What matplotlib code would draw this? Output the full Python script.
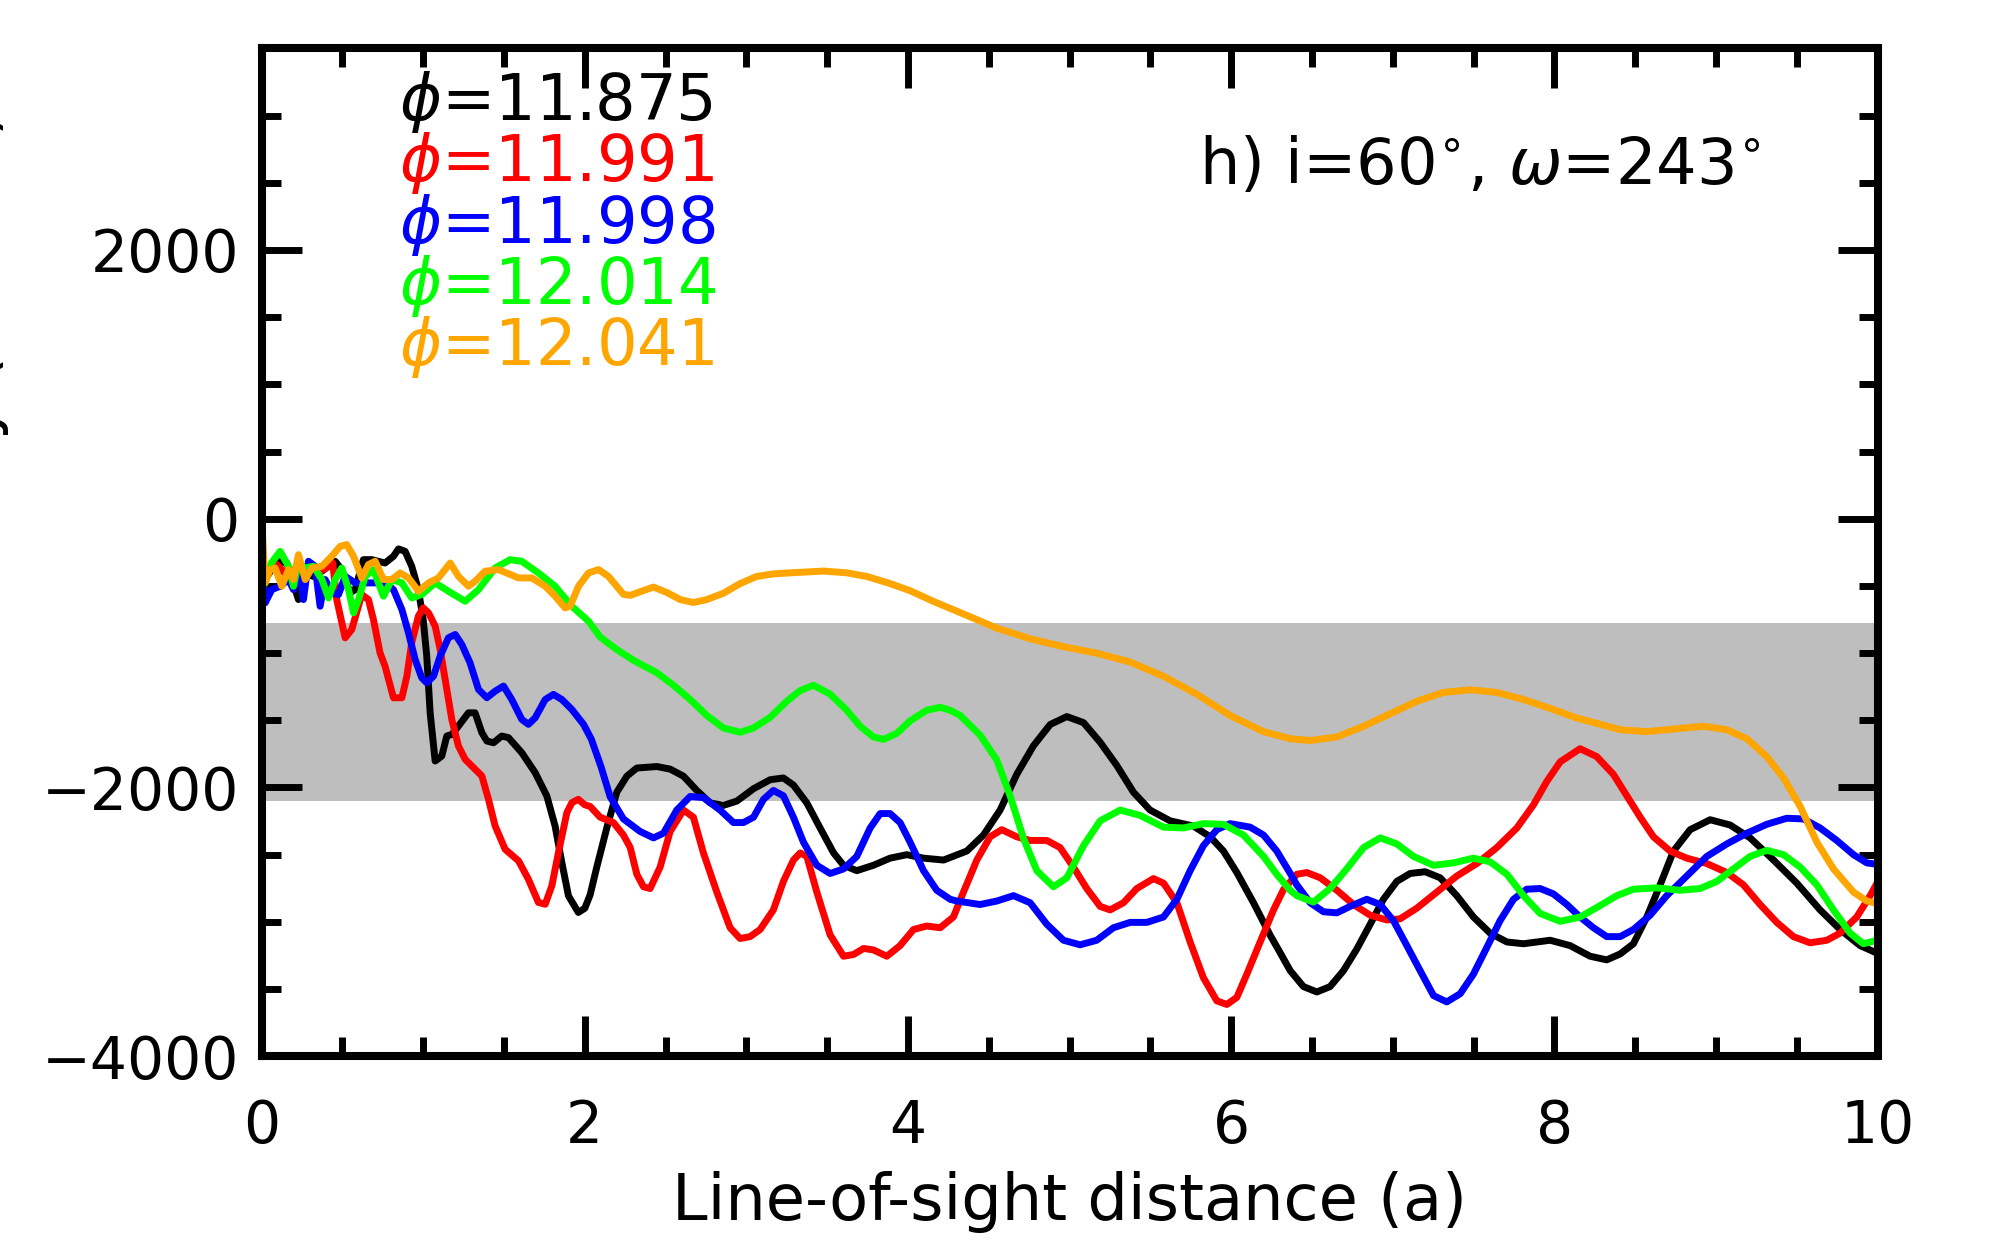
import matplotlib
matplotlib.use("Agg")
import matplotlib.pyplot as plt
from matplotlib.ticker import MultipleLocator

# ---------------- data ----------------
band_low, band_high = -2100, -780

black_pts = [(0, -450), (0.04, -420), (0.094, -317), (0.156, -330), (0.228, -602), (0.27, -404), (0.32, -430),
             (0.373, -391), (0.455, -317), (0.496, -379), (0.548, -552), (0.579, -528), (0.63, -305), (0.682, -305),
             (0.764, -330), (0.816, -280), (0.847, -225), (0.888, -243), (0.929, -354), (0.97, -528), (1.0, -751),
             (1.022, -1023), (1.043, -1445), (1.074, -1804), (1.115, -1767), (1.146, -1618), (1.177, -1606),
             (1.218, -1544), (1.28, -1445), (1.321, -1445), (1.363, -1593), (1.394, -1655), (1.435, -1668),
             (1.486, -1618), (1.528, -1630), (1.61, -1742), (1.693, -1891), (1.765, -2064), (1.816, -2287),
             (1.858, -2560), (1.899, -2808), (1.96, -2931), (2.0, -2900), (2.033, -2800), (2.074, -2594),
             (2.136, -2302), (2.198, -2036), (2.26, -1917), (2.322, -1856), (2.446, -1845), (2.528, -1864),
             (2.611, -1917), (2.693, -2023), (2.776, -2116), (2.858, -2134), (2.941, -2102), (3.044, -2010),
             (3.147, -1943), (3.229, -1930), (3.291, -1983), (3.374, -2116), (3.456, -2302), (3.539, -2487),
             (3.601, -2580), (3.683, -2620), (3.786, -2580), (3.889, -2527), (3.993, -2501), (4.096, -2527),
             (4.22, -2541), (4.364, -2474), (4.467, -2355), (4.57, -2169), (4.673, -1903), (4.776, -1691),
             (4.88, -1532), (4.983, -1473), (5.086, -1518), (5.189, -1664), (5.292, -1837), (5.395, -2036),
             (5.498, -2169), (5.622, -2249), (5.766, -2288), (5.87, -2368), (5.952, -2474), (6.035, -2634),
             (6.138, -2859), (6.241, -3100), (6.303, -3231), (6.365, -3364), (6.447, -3483), (6.53, -3523),
             (6.612, -3483), (6.695, -3364), (6.777, -3204), (6.86, -3019), (6.942, -2833), (7.025, -2700),
             (7.107, -2641), (7.2, -2628), (7.293, -2673), (7.396, -2806), (7.499, -2965), (7.602, -3085),
             (7.706, -3151), (7.809, -3164), (7.974, -3138), (8.097, -3178), (8.221, -3257), (8.324, -3284),
             (8.407, -3240), (8.489, -3164), (8.572, -2965), (8.654, -2726), (8.737, -2474), (8.84, -2315),
             (8.964, -2241), (9.087, -2280), (9.211, -2376), (9.356, -2541), (9.5, -2713), (9.644, -2912),
             (9.768, -3058), (9.892, -3178), (10.0, -3236)]

red_pts = [(0, -450), (0.03, -420), (0.08, -330), (0.115, -367), (0.16, -430), (0.2, -380), (0.25, -420),
           (0.3, -360), (0.35, -400), (0.40, -367), (0.44, -330), (0.465, -602), (0.517, -887), (0.558, -825),
           (0.62, -565), (0.661, -602), (0.692, -751), (0.733, -999), (0.764, -1098), (0.816, -1333),
           (0.868, -1333), (0.899, -1172), (0.929, -924), (0.97, -726), (1.0, -664), (1.033, -701),
           (1.074, -800), (1.105, -974), (1.136, -1197), (1.177, -1494), (1.218, -1692), (1.26, -1792),
           (1.311, -1853), (1.363, -1915), (1.404, -2089), (1.445, -2287), (1.507, -2461), (1.59, -2547),
           (1.651, -2684), (1.713, -2857), (1.755, -2870), (1.796, -2733), (1.837, -2485), (1.889, -2188),
           (1.92, -2114), (1.96, -2089), (2.0, -2130), (2.033, -2142), (2.095, -2222), (2.177, -2262),
           (2.239, -2355), (2.281, -2448), (2.322, -2647), (2.363, -2740), (2.404, -2753), (2.466, -2594),
           (2.528, -2328), (2.611, -2169), (2.672, -2222), (2.734, -2488), (2.817, -2780), (2.899, -3045),
           (2.961, -3125), (3.023, -3111), (3.085, -3058), (3.167, -2912), (3.229, -2700), (3.291, -2541),
           (3.333, -2488), (3.374, -2514), (3.436, -2780), (3.518, -3098), (3.601, -3257), (3.663, -3244),
           (3.725, -3199), (3.786, -3210), (3.869, -3257), (3.951, -3178), (4.034, -3058), (4.116, -3032),
           (4.199, -3045), (4.281, -2965), (4.343, -2780), (4.426, -2541), (4.508, -2368), (4.58, -2315),
           (4.673, -2368), (4.756, -2395), (4.859, -2395), (4.941, -2448), (5.024, -2594), (5.106, -2753),
           (5.189, -2886), (5.251, -2912), (5.333, -2859), (5.416, -2753), (5.519, -2679), (5.581, -2713),
           (5.664, -2859), (5.746, -3151), (5.828, -3417), (5.911, -3589), (5.973, -3616), (6.035, -3563),
           (6.097, -3390), (6.179, -3151), (6.262, -2912), (6.324, -2760), (6.406, -2647), (6.468, -2634),
           (6.551, -2673), (6.654, -2766), (6.757, -2872), (6.86, -2952), (6.963, -2987), (7.045, -2979),
           (7.149, -2899), (7.272, -2780), (7.396, -2660), (7.52, -2567), (7.644, -2448), (7.768, -2302),
           (7.871, -2129), (7.953, -1956), (8.036, -1810), (8.159, -1712), (8.262, -1771), (8.365, -1903),
           (8.448, -2063), (8.531, -2222), (8.613, -2368), (8.716, -2474), (8.819, -2527), (8.943, -2567),
           (9.067, -2634), (9.17, -2726), (9.273, -2872), (9.376, -3005), (9.479, -3111), (9.582, -3157),
           (9.686, -3138), (9.768, -3085), (9.871, -2965), (9.954, -2806), (10.0, -2705)]

blue_pts = [(0, -150), (0.022, -627), (0.063, -528), (0.115, -503), (0.166, -453), (0.197, -528), (0.228, -330),
            (0.259, -602), (0.29, -317), (0.331, -354), (0.362, -652), (0.393, -453), (0.434, -552),
            (0.476, -565), (0.517, -429), (0.579, -478), (0.641, -478), (0.703, -478), (0.764, -478),
            (0.816, -528), (0.868, -676), (0.909, -850), (0.95, -1048), (0.991, -1184), (1.022, -1222),
            (1.064, -1172), (1.105, -1023), (1.156, -887), (1.198, -862), (1.239, -937), (1.29, -1073),
            (1.342, -1271), (1.394, -1333), (1.445, -1284), (1.497, -1246), (1.548, -1346), (1.61, -1494),
            (1.651, -1531), (1.693, -1482), (1.755, -1346), (1.806, -1308), (1.858, -1346), (1.92, -1420),
            (1.992, -1531), (2.04, -1640), (2.1, -1845), (2.157, -2070), (2.239, -2235), (2.342, -2328),
            (2.425, -2376), (2.487, -2341), (2.569, -2169), (2.652, -2068), (2.734, -2076), (2.837, -2169),
            (2.92, -2262), (2.982, -2262), (3.044, -2222), (3.106, -2089), (3.167, -2023), (3.229, -2063),
            (3.291, -2222), (3.353, -2408), (3.436, -2580), (3.518, -2641), (3.601, -2607), (3.683, -2514),
            (3.766, -2302), (3.828, -2195), (3.889, -2195), (3.951, -2262), (4.013, -2408), (4.096, -2620),
            (4.178, -2766), (4.261, -2833), (4.302, -2846), (4.446, -2872), (4.55, -2846), (4.653, -2806),
            (4.756, -2859), (4.859, -3019), (4.962, -3138), (5.065, -3172), (5.168, -3138), (5.271, -3045),
            (5.375, -3005), (5.478, -3005), (5.581, -2965), (5.664, -2833), (5.746, -2620), (5.828, -2434),
            (5.911, -2315), (5.993, -2270), (6.117, -2296), (6.2, -2355), (6.282, -2474), (6.365, -2640),
            (6.406, -2726), (6.489, -2859), (6.571, -2926), (6.654, -2934), (6.736, -2886), (6.839, -2833),
            (6.922, -2872), (7.004, -2992), (7.087, -3178), (7.169, -3364), (7.252, -3550), (7.334, -3597),
            (7.417, -3536), (7.499, -3390), (7.582, -3191), (7.664, -2992), (7.747, -2833), (7.829, -2758),
            (7.912, -2753), (7.994, -2793), (8.077, -2872), (8.159, -2965), (8.242, -3045), (8.324, -3111),
            (8.407, -3111), (8.489, -3058), (8.592, -2952), (8.695, -2806), (8.819, -2660), (8.943, -2514),
            (9.067, -2421), (9.191, -2341), (9.314, -2275), (9.438, -2230), (9.541, -2235), (9.644, -2302),
            (9.747, -2395), (9.851, -2501), (9.933, -2562), (10.0, -2573)]

green_pts = [(0, -500), (0.022, -478), (0.06, -330), (0.115, -243), (0.166, -354), (0.197, -503), (0.228, -330),
             (0.27, -367), (0.321, -354), (0.373, -453), (0.414, -590), (0.455, -453), (0.496, -367),
             (0.538, -528), (0.569, -701), (0.6, -602), (0.641, -429), (0.692, -379), (0.754, -577),
             (0.806, -453), (0.868, -478), (0.929, -590), (0.991, -565), (1.074, -478), (1.156, -540),
             (1.26, -615), (1.342, -528), (1.445, -367), (1.538, -305), (1.61, -317), (1.713, -404),
             (1.816, -503), (1.92, -652), (2.023, -763), (2.095, -881), (2.198, -974), (2.301, -1054),
             (2.446, -1147), (2.549, -1240), (2.652, -1346), (2.755, -1465), (2.858, -1558), (2.961, -1590),
             (3.044, -1558), (3.147, -1479), (3.25, -1359), (3.333, -1279), (3.415, -1240), (3.518, -1306),
             (3.621, -1426), (3.704, -1545), (3.786, -1625), (3.848, -1643), (3.931, -1598), (4.013, -1505),
             (4.116, -1426), (4.199, -1404), (4.261, -1426), (4.323, -1465), (4.446, -1611), (4.55, -1797),
             (4.632, -2063), (4.715, -2381), (4.797, -2620), (4.9, -2740), (4.983, -2673), (5.086, -2434),
             (5.189, -2249), (5.313, -2169), (5.437, -2209), (5.581, -2296), (5.705, -2302), (5.828, -2270),
             (5.952, -2275), (6.076, -2355), (6.2, -2514), (6.282, -2647), (6.365, -2766), (6.406, -2806),
             (6.509, -2854), (6.612, -2753), (6.715, -2607), (6.819, -2448), (6.922, -2376), (7.025, -2421),
             (7.128, -2514), (7.252, -2580), (7.376, -2562), (7.499, -2527), (7.602, -2554), (7.706, -2647),
             (7.809, -2806), (7.912, -2939), (8.036, -2997), (8.159, -2965), (8.283, -2880), (8.386, -2806),
             (8.489, -2758), (8.634, -2748), (8.778, -2766), (8.902, -2753), (9.005, -2700), (9.108, -2607),
             (9.211, -2514), (9.314, -2469), (9.418, -2501), (9.521, -2594), (9.624, -2726), (9.727, -2912),
             (9.83, -3085), (9.912, -3164), (10.0, -3138)]

orange_pts = [(0, 0), (0.022, -478), (0.053, -379), (0.084, -367), (0.125, -503), (0.166, -379), (0.197, -453),
              (0.228, -268), (0.27, -453), (0.311, -367), (0.373, -354), (0.434, -280), (0.486, -206),
              (0.527, -193), (0.569, -280), (0.62, -441), (0.661, -342), (0.703, -317), (0.754, -453),
              (0.806, -453), (0.857, -404), (0.909, -441), (0.971, -540), (1.033, -478), (1.094, -441),
              (1.167, -330), (1.218, -429), (1.28, -503), (1.321, -466), (1.383, -391), (1.466, -379),
              (1.59, -441), (1.672, -441), (1.755, -503), (1.816, -577), (1.878, -664), (1.909, -652),
              (1.961, -503), (2.023, -404), (2.085, -379), (2.146, -429), (2.239, -563), (2.281, -571),
              (2.342, -544), (2.425, -509), (2.507, -549), (2.59, -602), (2.672, -624), (2.755, -602),
              (2.858, -555), (2.961, -483), (3.064, -430), (3.167, -411), (3.271, -403), (3.477, -390),
              (3.621, -403), (3.745, -430), (3.889, -483), (4.013, -536), (4.158, -616), (4.343, -709),
              (4.55, -815), (4.756, -894), (4.962, -953), (5.168, -1001), (5.375, -1067), (5.581, -1173),
              (5.787, -1306), (5.993, -1465), (6.2, -1585), (6.365, -1638), (6.489, -1651), (6.654, -1625),
              (6.819, -1545), (6.984, -1452), (7.149, -1359), (7.314, -1293), (7.479, -1274), (7.644, -1293),
              (7.809, -1346), (7.974, -1412), (8.139, -1484), (8.304, -1537), (8.407, -1571), (8.572, -1585),
              (8.737, -1566), (8.922, -1545), (9.067, -1571), (9.191, -1638), (9.314, -1771), (9.418, -1930),
              (9.521, -2142), (9.624, -2408), (9.727, -2607), (9.851, -2780), (9.933, -2846), (10.0, -2865)]

series_labels = [r'$\phi$=11.875', r'$\phi$=11.991', r'$\phi$=11.998', r'$\phi$=12.014', r'$\phi$=12.041']
series_colors = ['black', '#ff0000', '#0000ff', '#00ff00', '#ffa500']
series_pts = [black_pts, red_pts, blue_pts, green_pts, orange_pts]

x_ticks = [0, 2, 4, 6, 8, 10]
y_ticks = [-4000, -2000, 0, 2000]

# ---------------- figure ----------------
plt.rcParams['font.family'] = ['DejaVu Sans']
plt.rcParams['mathtext.fontset'] = 'dejavusans'
fig = plt.figure(figsize=(20, 12.43), dpi=100)
ax = fig.add_axes([0.1308, 0.1504, 0.808, 0.8106])

ax.axhspan(band_low, band_high, color='#bebebe', lw=0, zorder=0)

for pts, col in zip(series_pts, series_colors):
    xs, ys = zip(*pts)
    ax.plot(xs, ys, color=col, lw=5.0, zorder=2, solid_joinstyle='round', solid_capstyle='butt')

ax.set_xlim(0, 10)
ax.set_ylim(-4000, 3500)
ax.set_xticks(x_ticks)
ax.set_yticks(y_ticks)
ax.xaxis.set_minor_locator(MultipleLocator(0.5))
ax.yaxis.set_minor_locator(MultipleLocator(500))
ax.tick_params(axis='both', which='both', direction='in', top=True, right=True, width=5)
ax.tick_params(axis='both', which='major', length=29, labelsize=42)
ax.tick_params(axis='both', which='minor', length=14)
ax.tick_params(axis='x', which='major', pad=30)
ax.tick_params(axis='y', which='major', pad=16)
for sp in ax.spines.values():
    sp.set_linewidth(5.8)
    sp.set_zorder(5)

ax.set_xlabel('Line-of-sight distance (a)', fontsize=46, labelpad=12)

# legend-like coloured labels
legend_y = [0.947, 0.886, 0.825, 0.764, 0.704]
for lab, col, yy in zip(series_labels, series_colors, legend_y):
    ax.text(0.085, yy, lab, color=col, fontsize=46, transform=ax.transAxes, ha='left', va='center')

ax.text(0.58, 0.883, r'h) i=60$^{\circ}$, $\omega$=243$^{\circ}$', fontsize=46,
        transform=ax.transAxes, ha='left', va='center')

# y-axis label (mostly cut off at the left edge, as in the reference)
fig.text(0.006, 0.69, 'Velocity (km s$^{-1}$)', rotation=90, fontsize=46, ha='right', va='center')

fig.savefig('out.png', dpi=100)
